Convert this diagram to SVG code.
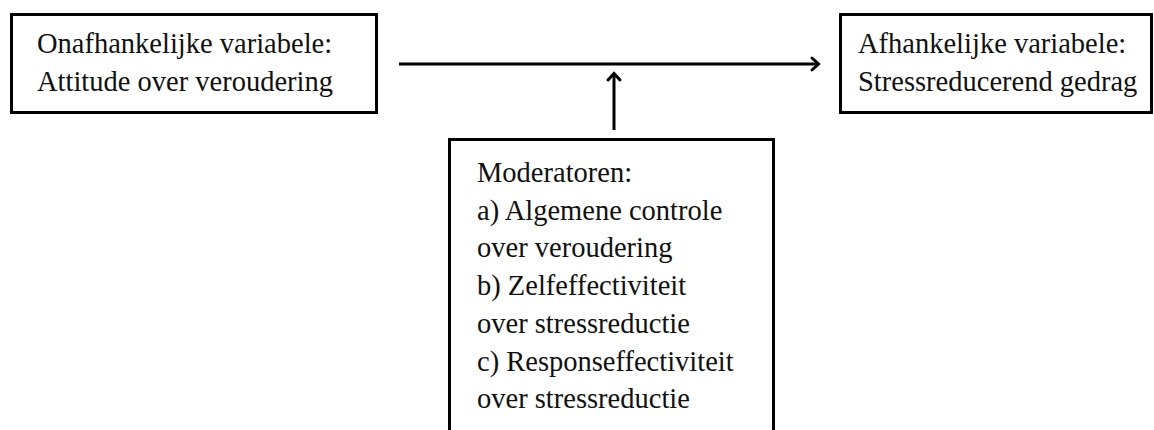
<svg xmlns="http://www.w3.org/2000/svg" width="1154" height="430" viewBox="0 0 1154 430">
<style>
.box{fill:#fff;stroke:#000;stroke-width:3}
.t{font-family:"Liberation Serif","Times New Roman",serif;font-size:28.5px;fill:#111}
.conn{stroke:#000;stroke-width:3;fill:none}
.ah{fill:none;stroke:#000;stroke-width:3;stroke-linecap:round;stroke-linejoin:miter}
</style>
<rect width="1154" height="430" fill="#fff"/>
<g id="onafhankelijk">
<rect class="box" x="11.5" y="14.5" width="365" height="98"/>
<text class="t" x="37" y="53">Onafhankelijke variabele:</text>
<text class="t" x="37" y="91">Attitude over veroudering</text>
</g>
<g id="afhankelijk">
<rect class="box" x="840.5" y="14.5" width="311" height="98"/>
<text class="t" x="858" y="53">Afhankelijke variabele:</text>
<text class="t" x="858" y="91">Stressreducerend gedrag</text>
</g>
<g id="moderatoren">
<path class="box" d="M449.5,432 V139.5 H773.5 V432"/>
<text class="t" x="477" y="182">Moderatoren:</text>
<text class="t" x="477" y="220">a) Algemene controle</text>
<text class="t" x="477" y="257">over veroudering</text>
<text class="t" x="477" y="295">b) Zelfeffectiviteit</text>
<text class="t" x="477" y="333">over stressreductie</text>
<text class="t" x="477" y="371">c) Responseffectiviteit</text>
<text class="t" x="477" y="408">over stressreductie</text>
</g>
<g id="connectors">
<line class="conn" x1="399" y1="64" x2="817" y2="64"/>
<path class="ah" d="M812,58 L818.5,64 L812,70"/>
<line class="conn" x1="614" y1="130" x2="614" y2="75"/>
<path class="ah" d="M608,80 L614,73.5 L620,80"/>
</g>
</svg>
